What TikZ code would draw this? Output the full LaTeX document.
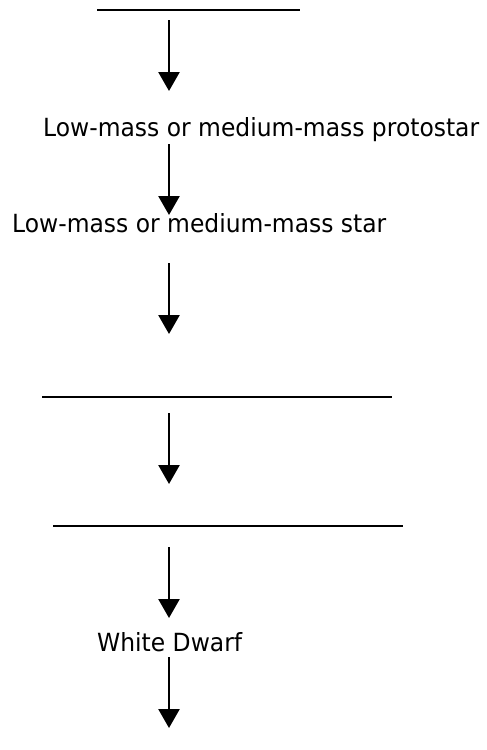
\documentclass[tikz,border=0pt]{standalone}
\usepackage{fontspec}
\setmainfont{DejaVu Sans}
\usetikzlibrary{arrows.meta}
\newcommand{\narrowtext}[1]{\scalebox{0.937}[1]{#1}}
\begin{document}
\begin{tikzpicture}[x=1pt,y=-1pt,
  flow/.style={line width=2.6pt,-{Triangle[width=21pt,length=19pt]}},
  blank/.style={line width=1.2pt},
  lbl/.style={inner sep=0pt,anchor=base west,font=\fontsize{25}{30}\selectfont}]
\useasboundingbox (0,0) rectangle (487,750);
% blanks
\coordinate (b1w) at (97,10); \coordinate (b1e) at (300,10);
\coordinate (b2w) at (42,397); \coordinate (b2e) at (392,397);
\coordinate (b3w) at (53,526); \coordinate (b3e) at (403,526);
\draw[blank] (b1w) -- (b1e);
\draw[blank] (b2w) -- (b2e);
\draw[blank] (b3w) -- (b3e);
% labels
\node[lbl] (proto) at (43,136) {\narrowtext{Low-mass or medium-mass protostar}};
\node[lbl] (star) at (12,232) {\narrowtext{Low-mass or medium-mass star}};
\node[lbl] (wd) at (97,651) {\narrowtext{White Dwarf}};
% arrow ends
\coordinate (a1s) at (169,20);  \coordinate (a1e) at (169,91);
\coordinate (a2s) at (169,144); \coordinate (a2e) at (169,215);
\coordinate (a3s) at (169,263); \coordinate (a3e) at (169,334);
\coordinate (a4s) at (169,413); \coordinate (a4e) at (169,484);
\coordinate (a5s) at (169,547); \coordinate (a5e) at (169,618);
\coordinate (a6s) at (169,657); \coordinate (a6e) at (169,728);
\draw[flow] (a1s) -- (a1e);
\draw[flow] (a2s) -- (a2e);
\draw[flow] (a3s) -- (a3e);
\draw[flow] (a4s) -- (a4e);
\draw[flow] (a5s) -- (a5e);
\draw[flow] (a6s) -- (a6e);
\end{tikzpicture}
\end{document}
